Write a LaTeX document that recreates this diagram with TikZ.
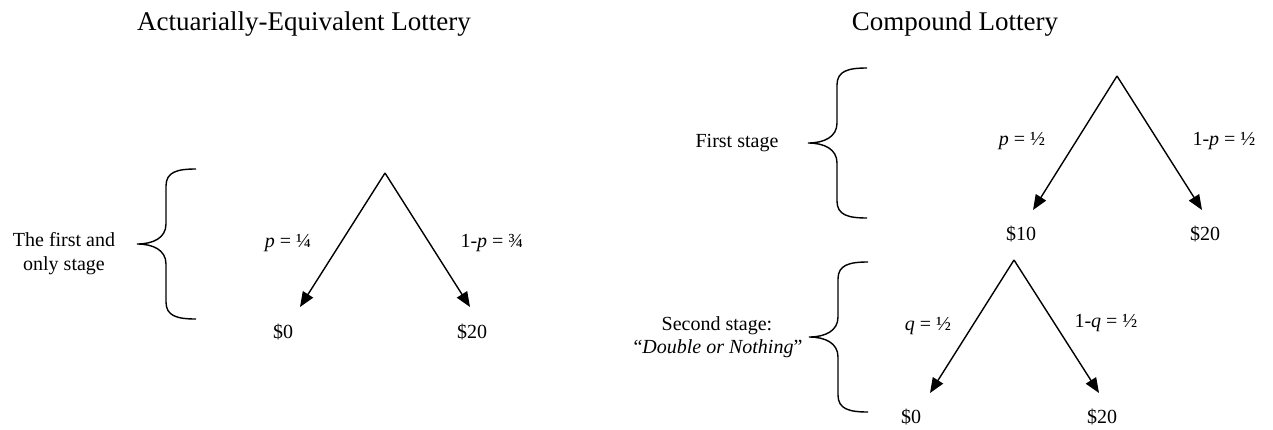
\documentclass[tikz,border=0pt]{standalone}
\usepackage{fontspec}
\setmainfont{Liberation Serif}
\usetikzlibrary{arrows.meta}
\begin{document}
\begin{tikzpicture}[x=1pt,y=-1pt,
  lbl/.style={font=\fontsize{20}{24}\selectfont, inner sep=0pt, anchor=base},
  ttl/.style={font=\fontsize{27}{31}\selectfont, inner sep=0pt, anchor=base},
  arr/.style={line width=1.4pt, -{Triangle[length=15pt,width=12pt]}},
  brc/.style={line width=1.4pt},
  bracepic/.pic={\draw[brc] (59,-75) .. controls (40,-75) and (29,-72) .. (29,-58) -- (29,-20) .. controls (29,-6) and (16,0) .. (0,0) .. controls (16,0) and (29,6) .. (29,20) -- (29,58) .. controls (29,72) and (40,75) .. (59,75);}]
\useasboundingbox (0,0) rectangle (1273,429);

% ---------- left: actuarially-equivalent lottery ----------
\node[ttl] (t1) at (304,30) {Actuarially-Equivalent Lottery};
\node[lbl] (s1a) at (64,246) {The first and};
\node[lbl] (s1b) at (64,270) {only stage};
\pic (b1) at (137,244) {bracepic};
\coordinate (a1) at (385,173);
\coordinate (l1) at (300,307);
\coordinate (r1) at (470,307);
\draw[arr] (a1) -- (l1);
\draw[arr] (a1) -- (r1);
\node[lbl] (pl1) at (288,247) {\textit{p} = ¼};
\node[lbl] (pr1) at (492,247) {1-\textit{p} = ¾};
\node[lbl] (o1) at (283,338) {\$0};
\node[lbl] (o2) at (472,338) {\$20};

% ---------- right: compound lottery ----------
\node[ttl] (t2) at (955,30) {Compound Lottery};

% first stage
\node[lbl] (s2) at (737,147) {First stage};
\pic (b2) at (808,143) {bracepic};
\coordinate (a2) at (1117,76);
\coordinate (l2) at (1033,210);
\coordinate (r2) at (1202,210);
\draw[arr] (a2) -- (l2);
\draw[arr] (a2) -- (r2);
\node[lbl] (pl2) at (1022,145) {\textit{p} = ½};
\node[lbl] (pr2) at (1224,145) {1-\textit{p} = ½};
\node[lbl] (o3) at (1021,240) {\$10};
\node[lbl] (o4) at (1205,240) {\$20};

% second stage
\node[lbl] (s3a) at (717,330) {Second stage:};
\node[lbl] (s3b) at (718,353) {“\textit{Double or Nothing}”};
\pic (b3) at (809,337) {bracepic};
\coordinate (a3) at (1014,260);
\coordinate (l3) at (930,393);
\coordinate (r3) at (1099,393);
\draw[arr] (a3) -- (l3);
\draw[arr] (a3) -- (r3);
\node[lbl] (pl3) at (928,330) {\textit{q} = ½};
\node[lbl] (pr3) at (1106,327) {1-\textit{q} = ½};
\node[lbl] (o5) at (911,423) {\$0};
\node[lbl] (o6) at (1102,423) {\$20};
\end{tikzpicture}
\end{document}
